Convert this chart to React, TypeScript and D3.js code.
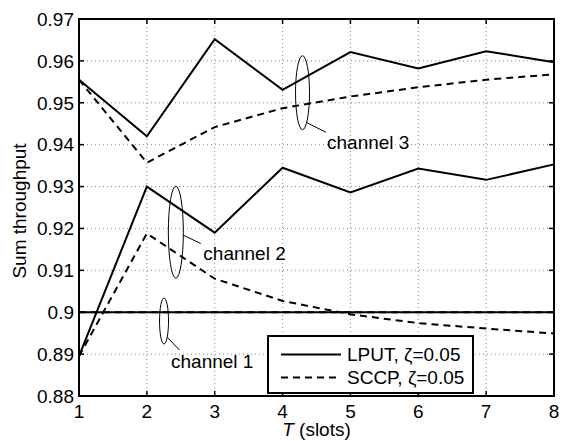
import React, { useEffect, useRef } from "react";
import * as d3 from "d3";

const slots = [1, 2, 3, 4, 5, 6, 7, 8];
const yTicks = [0.88, 0.89, 0.9, 0.91, 0.92, 0.93, 0.94, 0.95, 0.96, 0.97];
const yTickLabels = ["0.88", "0.89", "0.9", "0.91", "0.92", "0.93", "0.94", "0.95", "0.96", "0.97"];

const ch1Lput = [0.9, 0.9, 0.9, 0.9, 0.9, 0.9, 0.9, 0.9];
const ch1Sccp = [0.9, 0.9, 0.9, 0.9, 0.9, 0.9, 0.9, 0.9];
const ch2Lput = [0.8895, 0.93, 0.919, 0.9345, 0.9286, 0.9343, 0.9316, 0.9353];
const ch2Sccp = [0.8895, 0.9188, 0.908, 0.9027, 0.8995, 0.8974, 0.8961, 0.8949];
const ch3Lput = [0.9555, 0.942, 0.9652, 0.9531, 0.9621, 0.9582, 0.9623, 0.9597];
const ch3Sccp = [0.9555, 0.9357, 0.9442, 0.9487, 0.9515, 0.9537, 0.9555, 0.9568];

const legendLabels = ["LPUT, \u03b6=0.05", "SCCP, \u03b6=0.05"];

// ellipse annotations: center in data units
const notes = [
  { label: "channel 3", t: 4.294, v: 0.9524, rx: 7, ry: 37, lead: [4.2, 29.9, 23.5, 39.5], text: [24.5, 56.5] },
  { label: "channel 2", t: 2.427, v: 0.9191, rx: 7.5, ry: 46, lead: [7.5, 3, 24.9, 11.3], text: [27.5, 27.3] },
  { label: "channel 1", t: 2.253, v: 0.8979, rx: 4.5, ry: 23, lead: [3.3, 16.3, 15.4, 29], text: [7, 47] },
];

const W = 564;
const H = 441;
const FONT = "'Liberation Sans', Arial, sans-serif";
const FS = 19;

export default function App() {
  const ref: any = useRef();

  useEffect(() => {
    const svg = d3.select(ref.current);
    svg.selectAll("*").remove();

    const left = 79, right = 554, top = 19, bottom = 396;
    const x = d3.scaleLinear().domain([1, 8]).range([left, right]);
    const y = d3.scaleLinear().domain([0.88, 0.97]).range([bottom, top]);

    svg.append("rect").attr("width", W).attr("height", H).attr("fill", "#fff");

    // grid
    const grid = svg.append("g").attr("stroke", "#888").attr("stroke-width", 1).attr("stroke-dasharray", "1,3");
    slots.slice(1, -1).forEach((t) => {
      grid.append("line").attr("x1", x(t)).attr("x2", x(t)).attr("y1", top).attr("y2", bottom);
    });
    yTicks.slice(1, -1).forEach((v) => {
      grid.append("line").attr("x1", left).attr("x2", right).attr("y1", y(v)).attr("y2", y(v));
    });

    // inner ticks on all sides
    const ticks = svg.append("g").attr("stroke", "#000").attr("stroke-width", 1.5);
    slots.forEach((t) => {
      ticks.append("line").attr("x1", x(t)).attr("x2", x(t)).attr("y1", bottom).attr("y2", bottom - 5);
      ticks.append("line").attr("x1", x(t)).attr("x2", x(t)).attr("y1", top).attr("y2", top + 5);
    });
    yTicks.forEach((v) => {
      ticks.append("line").attr("x1", left).attr("x2", left + 5).attr("y1", y(v)).attr("y2", y(v));
      ticks.append("line").attr("x1", right).attr("x2", right - 5).attr("y1", y(v)).attr("y2", y(v));
    });

    const line: any = d3
      .line()
      .x((d: any, i: number) => x(slots[i]))
      .y((d: any) => y(d));

    const series = [
      { data: ch1Lput, dash: null },
      { data: ch1Sccp, dash: "7,5" },
      { data: ch2Lput, dash: null },
      { data: ch2Sccp, dash: "7,5" },
      { data: ch3Lput, dash: null },
      { data: ch3Sccp, dash: "7,5" },
    ];
    series.forEach((s) => {
      svg
        .append("path")
        .datum(s.data)
        .attr("fill", "none")
        .attr("stroke", "#000")
        .attr("stroke-width", 2)
        .attr("stroke-dasharray", s.dash)
        .attr("d", line);
    });

    // annotations
    notes.forEach((n) => {
      const cx = x(n.t), cy = y(n.v);
      svg.append("ellipse").attr("cx", cx).attr("cy", cy).attr("rx", n.rx).attr("ry", n.ry)
        .attr("fill", "none").attr("stroke", "#000").attr("stroke-width", 1);
      svg.append("line")
        .attr("x1", cx + n.lead[0]).attr("y1", cy + n.lead[1])
        .attr("x2", cx + n.lead[2]).attr("y2", cy + n.lead[3])
        .attr("stroke", "#000").attr("stroke-width", 1);
      svg.append("text").attr("x", cx + n.text[0]).attr("y", cy + n.text[1])
        .attr("font-family", FONT).attr("font-size", FS).text(n.label);
    });

    // frame
    svg.append("rect").attr("x", left).attr("y", top).attr("width", right - left).attr("height", bottom - top)
      .attr("fill", "none").attr("stroke", "#000").attr("stroke-width", 2);

    // tick labels
    slots.forEach((t) => {
      svg.append("text").attr("x", x(t)).attr("y", 418).attr("text-anchor", "middle")
        .attr("font-family", FONT).attr("font-size", FS).text(t);
    });
    yTicks.forEach((v, i) => {
      svg.append("text").attr("x", 74).attr("y", y(v) + 6.8).attr("text-anchor", "end")
        .attr("font-family", FONT).attr("font-size", FS).text(yTickLabels[i]);
    });

    // axis titles
    const xt = svg.append("text").attr("x", (left + right) / 2).attr("y", 436).attr("text-anchor", "middle")
      .attr("font-family", FONT).attr("font-size", FS);
    xt.append("tspan").attr("font-style", "italic").text("T");
    xt.append("tspan").text(" (slots)");
    svg.append("text").attr("transform", `translate(26,211) rotate(-90)`)
      .attr("text-anchor", "middle").attr("font-family", FONT).attr("font-size", FS).text("Sum throughput");

    // legend
    const lx = 268, ly = 336, lw = 205, lh = 57;
    svg.append("rect").attr("x", lx).attr("y", ly).attr("width", lw).attr("height", lh)
      .attr("fill", "#fff").attr("stroke", "#000").attr("stroke-width", 2);
    legendLabels.forEach((lab, i) => {
      const yy = ly + 18.5 + i * 23;
      svg.append("line").attr("x1", lx + 13).attr("x2", lx + 73).attr("y1", yy).attr("y2", yy)
        .attr("stroke", "#000").attr("stroke-width", 2).attr("stroke-dasharray", i === 0 ? null : "7,5");
      svg.append("text").attr("x", lx + 79).attr("y", yy + 6.8).attr("font-family", FONT).attr("font-size", FS).text(lab);
    });
  }, []);

  return (
    <svg ref={ref} width={W} height={H} style={{ position: "absolute", left: 0, top: 0, display: "block" }} />
  );
}
